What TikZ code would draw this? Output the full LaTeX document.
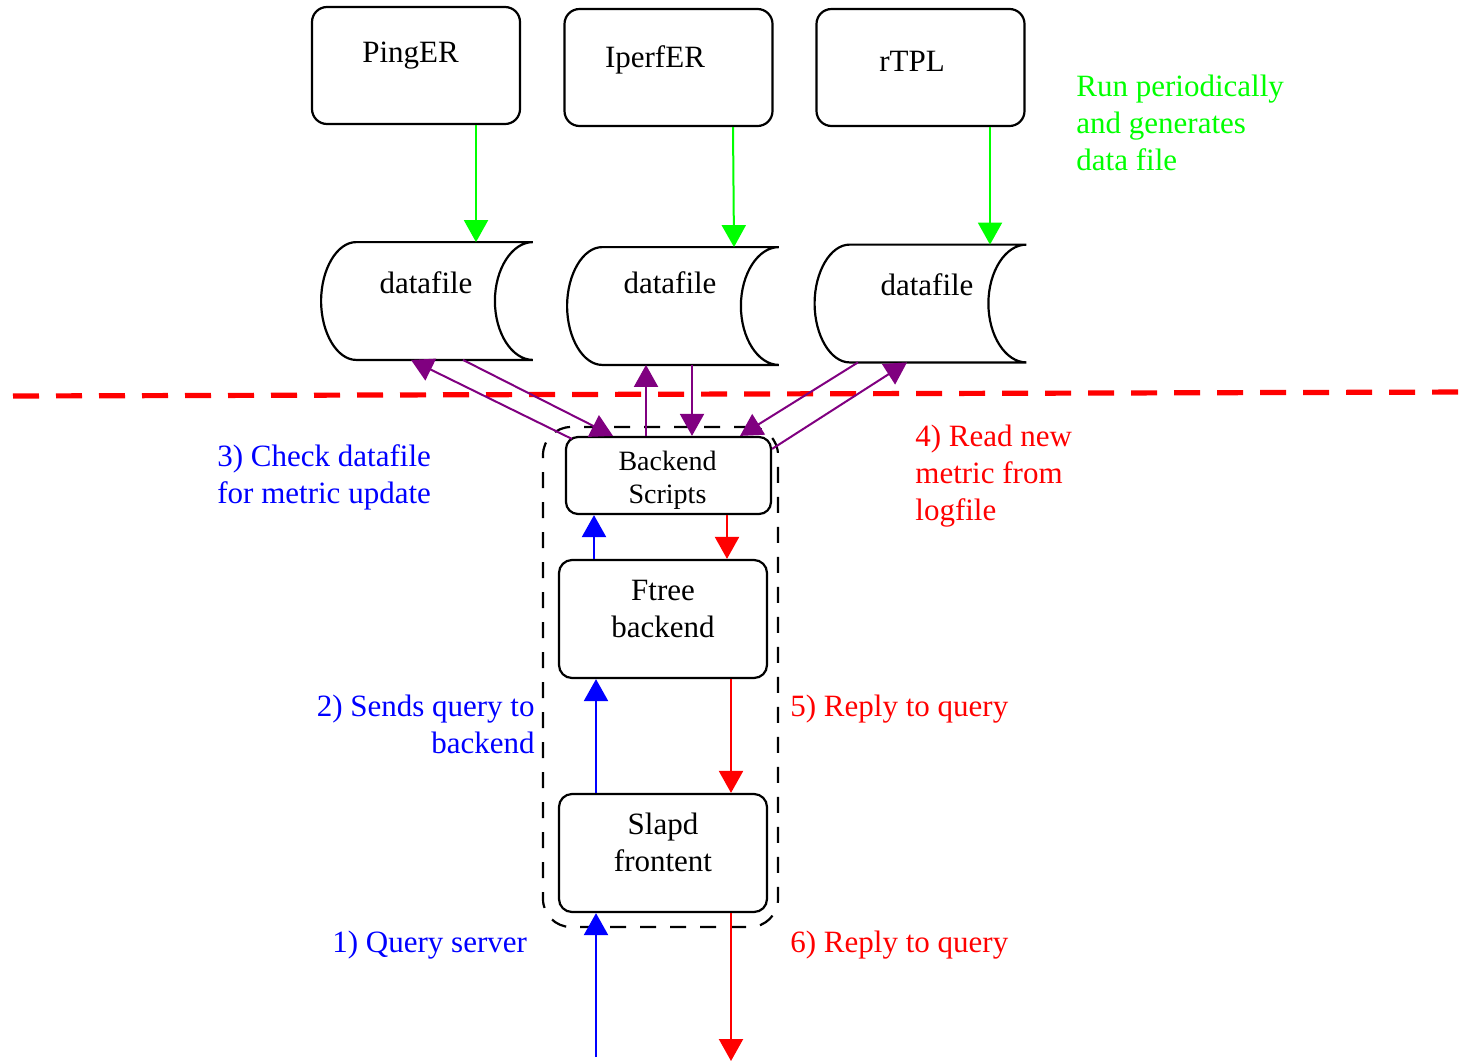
\documentclass[tikz,border=0pt]{standalone}
\usepackage{fontspec}
\setmainfont{Liberation Serif}
\usetikzlibrary{arrows.meta,calc}
\definecolor{gvgreen}{RGB}{0,255,0}
\definecolor{gvblue}{RGB}{0,0,255}
\definecolor{gvred}{RGB}{255,0,0}
\definecolor{gvpurple}{RGB}{128,0,128}

% storage shape: bulging left side, hollow right side
\newcommand\drawdatafile[1]{%
  \draw[line width=1.1pt]
    ($(#1.north west)+(35,0)$) -- (#1.north east)
    .. controls ($(#1.north east)+(-21,0)$) and ($(#1.east)+(-38,-32)$) .. ($(#1.east)+(-38,0)$)
    .. controls ($(#1.east)+(-38,32)$) and ($(#1.south east)+(-21,0)$) .. (#1.south east)
    -- ($(#1.south west)+(35,0)$)
    .. controls ($(#1.south west)+(16,0)$) and ($(#1.west)+(0,32)$) .. (#1.west)
    .. controls ($(#1.west)+(0,-32)$) and ($(#1.north west)+(16,0)$) .. cycle;}

\begin{document}
\begin{tikzpicture}[x=0.5pt,y=-0.5pt,
  txt/.style={font=\fontsize{15.5pt}{18.5pt}\selectfont, inner sep=0pt},
  smalltxt/.style={font=\fontsize{14pt}{16.5pt}\selectfont, inner sep=0pt},
  toolbox/.style={draw, line width=1.1pt, rounded corners=7.5pt,
    minimum width=104pt, minimum height=58.5pt, inner sep=0pt},
  procbox/.style={draw, line width=1.1pt, rounded corners=6.5pt,
    minimum width=104pt, minimum height=59pt, inner sep=0pt},
  scriptbox/.style={draw, line width=1.1pt, rounded corners=6pt,
    minimum width=102.5pt, minimum height=38.5pt, inner sep=0pt},
  dfile/.style={minimum width=105.5pt, minimum height=58.5pt, inner sep=0pt},
  cluster/.style={draw, dashed, dash pattern=on 8pt off 7pt, line width=1.1pt,
    rounded corners=14pt, minimum width=117.5pt, minimum height=250pt, inner sep=0pt},
  tip/.style={-{Triangle[length=11pt,width=12pt]}},
  gen/.style={tip, gvgreen, line width=1pt},
  rd/.style={tip, gvpurple, line width=1pt},
  qry/.style={tip, gvblue, line width=1.1pt},
  rep/.style={tip, gvred, line width=1.1pt}]

\useasboundingbox (0,0) rectangle (1471,1061);

% dashed group round the server parts
\node[cluster] (cl) at (660.5,677) {};

% measurement tools
\node[toolbox] (p1) at (416,65.5) {};
\node[toolbox] (p2) at (668.5,67.5) {};
\node[toolbox] (p3) at (920.5,67.5) {};
\node[txt, anchor=base] (p1t) at (410.5,62) {PingER};
\node[txt, anchor=base] (p2t) at (655,67) {IperfER};
\node[txt, anchor=base] (p3t) at (912,71) {rTPL};

% data files
\node[dfile] (d1) at (427,301) {};
\node[dfile] (d2) at (673,306) {};
\node[dfile] (d3) at (920.5,303.5) {};
\drawdatafile{d1}
\drawdatafile{d2}
\drawdatafile{d3}
\node[txt, anchor=base] (d1t) at (426,293) {datafile};
\node[txt, anchor=base] (d2t) at (670,293) {datafile};
\node[txt, anchor=base] (d3t) at (927,295) {datafile};

% server parts (multi-line texts are placed by the baseline of their last line)
\node[scriptbox] (bs) at (668.5,475.5) {};
\node[procbox] (ft) at (663,619) {};
\node[procbox] (sl) at (663,853) {};
\node[smalltxt, anchor=base, align=center] (bst) at (667.5,503) {Backend\\Scripts};
\node[txt, anchor=base, align=center] (ftt) at (663,637) {Ftree\\backend};
\node[txt, anchor=base, align=center] (slt) at (663,871) {Slapd\\frontent};

\coordinate (in) at (596,1057);
\coordinate (out) at (731,1061);

% boundary between tools and server
\draw[gvred, line width=2.6pt, dash pattern=on 13pt off 8.5pt] (13,396) -- (1471,392);

% tools write their data files
\draw[gen] ($(p1.south)+(60,0)$) -- ($(d1.north)+(49,0)$);
\draw[gen] ($(p2.south)+(64.5,0)$) -- ($(d2.north)+(61,0)$);
\draw[gen] ($(p3.south)+(69.5,0)$) -- ($(d3.north)+(69.5,0)$);

% backend scripts check and read the data files
\draw[rd] ($(bs.north west)+(7,3)$) -- ($(d1.south)+(-16,0)$);
\draw[rd] ($(d1.south)+(36,0)$) -- ($(bs.north)+(-55.5,0)$);
\draw[rd] ($(bs.north)+(-22.5,0)$) -- ($(d2.south)+(-27,0)$);
\draw[rd] ($(d2.south)+(19,0)$) -- ($(bs.north)+(23.5,0)$);
\draw[rd] ($(d3.south)+(-62.5,0)$) -- ($(bs.north)+(71.5,0)$);
\draw[rd] ($(bs.north east)+(0,13)$) -- ($(d3.south)+(-13.5,0)$);

% query path and replies
\draw[qry] (in) -- ($(sl.south)+(-67,0)$);
\draw[qry] ($(sl.north)+(-67,0)$) -- ($(ft.south)+(-67,0)$);
\draw[qry] ($(ft.north)+(-69,0)$) -- ($(bs.south)+(-74.5,0)$);
\draw[rep] ($(bs.south)+(58.5,0)$) -- ($(ft.north)+(64,0)$);
\draw[rep] ($(ft.south)+(68,0)$) -- ($(sl.north)+(68,0)$);
\draw[rep] ($(sl.south)+(68,0)$) -- (out);

% step labels
\node[txt, gvgreen, anchor=base west, align=left] (lrun) at (1076,170)
  {Run periodically\\and generates\\data file};
\node[txt, gvblue, anchor=base west, align=left] (lcheck) at (217,503)
  {3) Check datafile\\for metric update};
\node[txt, gvred, anchor=base west, align=left] (lread) at (915,520)
  {4) Read new\\metric from\\logfile};
\node[txt, gvblue, anchor=base east, align=right] (lsend) at (535,753)
  {2) Sends query to\\backend};
\node[txt, gvred, anchor=base west] (lrep5) at (790,716) {5) Reply to query};
\node[txt, gvblue, anchor=base west] (lquery) at (332,952) {1) Query server};
\node[txt, gvred, anchor=base west] (lrep6) at (790,952) {6) Reply to query};

\end{tikzpicture}
\end{document}
